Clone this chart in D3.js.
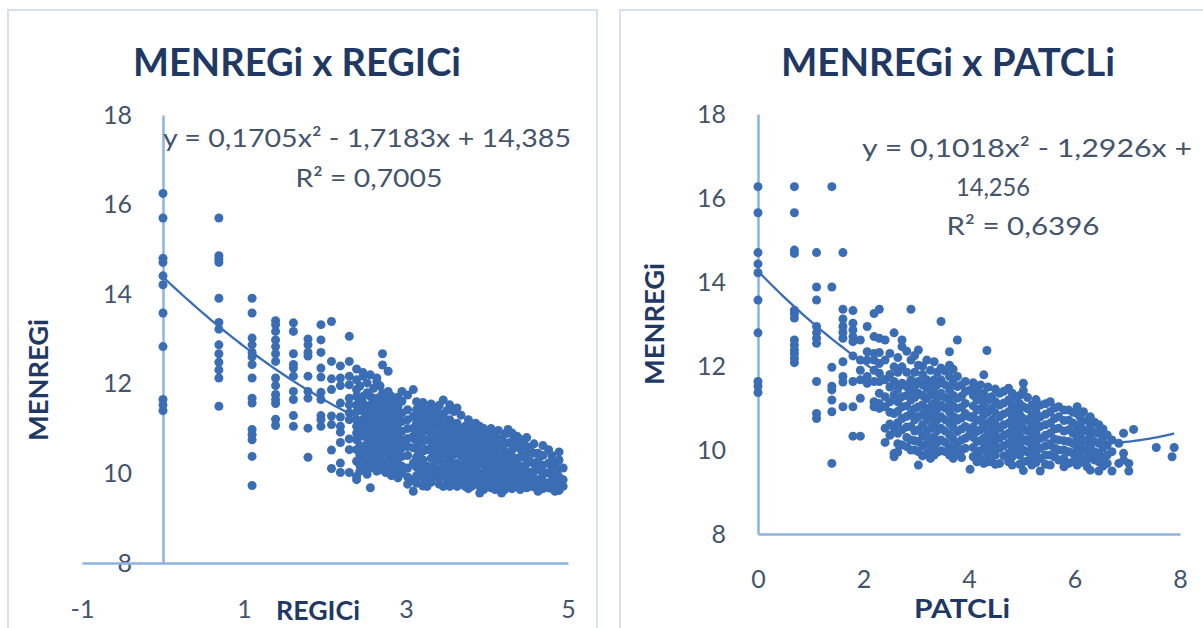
<!DOCTYPE html>
<html>
<head>
<meta charset="utf-8">
<script src="https://cdn.jsdelivr.net/npm/d3@7"></script>
<style>
  html, body { margin: 0; padding: 0; background: #ffffff; }
  svg { display: block; }
</style>
</head>
<body>
<svg id="chart" width="1203" height="628"></svg>
<script>
// ---- data -------------------------------------------------------------
// Each entry: [REGICi, MENREGi values observed at that REGICi]
const regiciColumns = [
  [0.00, [16.25, 15.70, 14.80, 14.71, 14.41, 14.21, 13.58, 12.83, 11.65, 11.53, 11.40]],
  [0.69, [15.70, 14.86, 14.78, 14.71, 13.91, 13.37, 13.22, 12.87, 12.67, 12.48, 12.31, 12.13, 11.50]],
  [1.10, [13.91, 13.58, 13.02, 12.87, 12.70, 12.60, 12.43, 12.13, 11.68, 11.57, 10.98, 10.87, 10.75, 10.38, 9.73]],
  [1.39, [13.41, 13.32, 13.17, 12.98, 12.83, 12.67, 12.50, 12.13, 11.96, 11.76, 11.65, 11.56, 11.21, 11.07]],
  [1.61, [13.36, 13.17, 12.67, 12.43, 12.35, 12.17, 11.83, 11.65, 11.29, 11.05]],
  [1.79, [13.00, 12.87, 12.70, 12.62, 12.17, 11.83, 11.68, 11.01, 10.36]],
  [1.95, [13.32, 12.98, 12.70, 12.35, 12.15, 11.81, 11.65, 11.29, 11.20, 11.05]],
  [2.08, [13.39, 12.50, 12.11, 11.87, 11.28, 11.09, 10.52, 10.11]],
  [2.19, [12.40, 12.13, 11.96, 11.57, 11.26, 11.05, 10.92, 10.69, 10.23, 10.02]],
  [2.30, [13.06, 12.50, 12.17, 11.98, 11.68, 11.53, 11.35, 11.20, 10.77, 10.53, 10.02]],
  [2.39, [12.33, 12.09, 11.87, 11.72, 11.53, 11.38, 11.20, 11.05, 10.90, 10.75, 10.53, 10.27, 9.93, 9.86]],
  [2.43, [11.95, 11.62, 11.44, 11.10, 10.84, 10.62, 10.40, 10.18, 10.05]],
  [2.47, [12.25, 12.17, 11.72, 11.57, 11.38, 11.20, 11.01, 10.83, 10.53, 10.27, 10.12]],
  [2.52, [12.02, 11.80, 11.46, 11.28, 11.07, 10.86, 10.66, 10.44, 10.20, 9.98]],
  [2.56, [12.20, 11.72, 11.53, 11.35, 11.16, 10.94, 10.75, 10.53, 10.31, 10.12, 9.68]],
  [2.60, [11.90, 11.62, 11.40, 11.22, 11.02, 10.80, 10.60, 10.40, 10.18]],
  [2.64, [12.13, 12.05, 11.68, 11.50, 11.31, 11.12, 10.90, 10.68, 10.53, 10.27, 10.05]],
  [2.68, [11.95, 11.70, 11.50, 11.36, 11.16, 10.96, 10.74, 10.48, 10.34, 10.08]],
  [2.71, [12.67, 12.42, 11.79, 11.61, 11.42, 11.27, 11.05, 10.83, 10.60, 10.27, 10.16]],
  [2.75, [11.70, 11.46, 11.30, 11.10, 10.92, 10.70, 10.47, 10.22, 10.02]],
  [2.78, [12.28, 11.83, 11.57, 11.35, 11.20, 11.01, 10.83, 10.53, 10.31, 10.12]],
  [2.82, [11.72, 11.52, 11.36, 11.15, 10.95, 10.68, 10.42, 10.18, 9.95]],
  [2.86, [11.61, 11.46, 11.27, 11.05, 10.79, 10.57, 10.27, 10.05]],
  [2.90, [11.70, 11.50, 11.30, 11.10, 10.88, 10.66, 10.45, 10.22, 10.08, 9.90]],
  [2.95, [11.83, 11.61, 11.35, 11.16, 10.94, 10.75, 10.57, 10.38, 10.16, 10.01]],
  [3.02, [11.75, 11.42, 11.20, 11.00, 10.78, 10.60, 10.40, 10.12, 9.92, 9.76]],
  [3.09, [11.87, 11.27, 11.01, 10.83, 10.57, 10.23, 9.86, 9.60]],
  [3.13, [11.60, 11.42, 11.12, 10.96, 10.76, 10.55, 10.36, 10.14, 9.95, 9.78]],
  [3.17, [11.50, 11.35, 11.20, 11.05, 10.86, 10.68, 10.45, 10.23, 10.05]],
  [3.21, [11.58, 11.30, 11.10, 10.92, 10.72, 10.50, 10.30, 10.12, 9.90, 9.72]],
  [3.26, [11.42, 11.24, 10.98, 10.75, 10.53, 10.16, 10.01, 9.86, 9.71]],
  [3.31, [11.55, 11.33, 11.12, 10.90, 10.70, 10.52, 10.34, 10.14, 9.96, 9.80]],
  [3.36, [11.46, 11.20, 11.05, 10.83, 10.64, 10.45, 10.27, 10.08, 9.93]],
  [3.41, [11.52, 11.34, 11.12, 10.92, 10.72, 10.52, 10.30, 10.10, 9.90, 9.76]],
  [3.46, [11.64, 11.27, 11.01, 10.79, 10.60, 10.42, 10.16, 10.01, 9.71]],
  [3.50, [11.40, 11.10, 10.88, 10.66, 10.45, 10.24, 10.06, 9.90, 9.76]],
  [3.54, [11.53, 11.20, 10.94, 10.72, 10.53, 10.31, 10.12, 9.86, 9.71]],
  [3.59, [11.38, 11.05, 10.84, 10.62, 10.42, 10.20, 10.00, 9.80]],
  [3.63, [11.46, 11.12, 10.90, 10.68, 10.49, 10.23, 10.05, 9.86, 9.71]],
  [3.68, [11.30, 11.00, 10.82, 10.62, 10.40, 10.20, 10.02, 9.80]],
  [3.73, [11.05, 10.90, 10.75, 10.53, 10.34, 10.16, 9.93, 9.71]],
  [3.77, [11.20, 10.98, 10.80, 10.60, 10.38, 10.20, 10.00, 9.80, 9.66]],
  [3.81, [11.09, 10.86, 10.68, 10.45, 10.27, 10.05, 9.86, 9.71]],
  [3.86, [11.12, 10.95, 10.75, 10.55, 10.35, 10.15, 9.95, 9.78]],
  [3.91, [11.05, 10.86, 10.64, 10.45, 10.23, 10.01, 9.86, 9.71, 9.56]],
  [3.96, [11.00, 10.78, 10.58, 10.38, 10.18, 9.98, 9.80, 9.64]],
  [4.00, [10.90, 10.68, 10.49, 10.27, 10.08, 9.86, 9.71]],
  [4.05, [11.00, 10.78, 10.58, 10.38, 10.18, 10.00, 9.80, 9.68]],
  [4.10, [10.86, 10.64, 10.45, 10.27, 10.12, 9.93, 9.79, 9.64]],
  [4.14, [10.96, 10.76, 10.55, 10.36, 10.20, 10.02, 9.85, 9.68]],
  [4.18, [10.75, 10.57, 10.34, 10.16, 9.97, 9.79, 9.71, 9.56]],
  [4.22, [10.88, 10.66, 10.48, 10.30, 10.12, 9.95, 9.80, 9.64]],
  [4.26, [10.98, 10.90, 10.68, 10.45, 10.27, 10.08, 9.86, 9.71]],
  [4.31, [10.90, 10.72, 10.52, 10.35, 10.15, 9.96, 9.80, 9.66]],
  [4.37, [10.83, 10.60, 10.34, 10.20, 10.01, 9.86, 9.71]],
  [4.41, [10.76, 10.55, 10.36, 10.15, 9.98, 9.80, 9.64]],
  [4.45, [10.68, 10.38, 10.16, 9.93, 9.71]],
  [4.49, [10.80, 10.60, 10.42, 10.22, 10.04, 9.86, 9.68]],
  [4.53, [10.53, 10.27, 10.01, 9.79, 9.71]],
  [4.58, [10.66, 10.45, 10.22, 10.05, 9.88, 9.70]],
  [4.63, [10.45, 10.27, 10.08, 9.86, 9.71, 9.60]],
  [4.69, [10.62, 10.40, 10.18, 9.98, 9.82, 9.66]],
  [4.76, [10.53, 10.23, 10.01, 9.79, 9.68]],
  [4.80, [10.40, 10.14, 9.96, 9.80, 9.66]],
  [4.84, [10.23, 10.01, 9.86, 9.75, 9.60]],
  [4.89, [10.48, 10.30, 10.10, 9.92, 9.76, 9.62]],
  [4.94, [10.12, 9.86, 9.71]]
];

// Each entry: [PATCLi, MENREGi values observed at that PATCLi]
const patcliColumns = [
  [0.00, [16.27, 15.65, 14.70, 14.43, 14.22, 13.57, 12.79, 11.63, 11.52, 11.37]],
  [0.69, [16.27, 15.65, 14.76, 14.68, 13.33, 13.25, 13.14, 12.62, 12.50, 12.38, 12.29, 12.18, 12.08]],
  [1.11, [14.70, 13.88, 13.57, 12.94, 12.79, 12.66, 12.54, 11.63, 10.87, 10.75]],
  [1.40, [16.27, 13.88, 11.97, 11.52, 11.43, 11.19, 10.91, 9.68]],
  [1.61, [14.70, 13.35, 13.12, 12.94, 12.80, 12.66, 12.10, 11.75, 11.62, 11.03]],
  [1.80, [13.32, 13.02, 12.86, 12.70, 12.58, 12.24, 11.63, 11.03, 10.33]],
  [1.94, [12.62, 12.14, 11.90, 11.67, 11.23, 10.33]],
  [2.07, [12.94, 12.34, 12.14, 11.75, 11.59]],
  [2.20, [13.25, 12.70, 12.30, 12.14, 11.90, 11.63, 11.15, 11.03]],
  [2.30, [13.35, 12.66, 12.32, 12.06, 11.83, 11.63, 11.35, 11.11, 10.99]],
  [2.41, [12.62, 12.14, 11.67, 11.27, 11.03, 10.52, 10.18]],
  [2.50, [12.30, 11.80, 11.50, 11.15, 10.90, 10.62, 10.35]],
  [2.58, [12.79, 11.98, 11.63, 11.31, 10.87, 10.52, 9.92, 9.84]],
  [2.65, [12.20, 11.85, 11.45, 11.15, 10.92, 10.65, 10.40, 10.15, 9.95]],
  [2.73, [12.62, 12.46, 11.98, 11.59, 11.27, 11.03, 10.75, 10.48, 10.12]],
  [2.82, [12.35, 11.85, 11.55, 11.30, 11.05, 10.80, 10.55, 10.30, 10.08]],
  [2.90, [13.35, 12.14, 11.67, 11.43, 11.19, 10.87, 10.56, 10.24, 10.00]],
  [2.97, [12.25, 11.85, 11.52, 11.25, 10.98, 10.72, 10.45, 10.22, 10.00]],
  [3.04, [12.38, 12.02, 11.63, 11.35, 11.03, 10.79, 10.48, 10.20, 9.96, 9.64]],
  [3.12, [12.00, 11.80, 11.55, 11.30, 11.08, 10.85, 10.60, 10.34, 10.10, 9.86]],
  [3.20, [12.14, 11.67, 11.47, 11.23, 10.95, 10.71, 10.44, 10.16, 9.92]],
  [3.27, [11.90, 11.55, 11.30, 11.02, 10.78, 10.52, 10.26, 10.00, 9.80]],
  [3.34, [12.10, 11.67, 11.39, 11.11, 10.87, 10.60, 10.32, 10.08, 9.88]],
  [3.40, [11.85, 11.55, 11.25, 10.98, 10.72, 10.46, 10.18, 9.95]],
  [3.47, [13.06, 11.95, 11.67, 11.35, 11.07, 10.79, 10.52, 10.24, 9.98]],
  [3.55, [11.88, 11.55, 11.25, 11.00, 10.72, 10.45, 10.18, 9.96]],
  [3.63, [12.34, 12.02, 11.75, 11.43, 11.15, 10.91, 10.64, 10.36, 10.08, 9.88]],
  [3.70, [11.92, 11.60, 11.30, 11.05, 10.80, 10.54, 10.26, 10.02, 9.80]],
  [3.78, [12.62, 11.75, 11.51, 11.23, 10.99, 10.71, 10.44, 10.16, 9.92]],
  [3.86, [11.55, 11.28, 11.02, 10.76, 10.50, 10.24, 10.00, 9.82]],
  [3.93, [11.63, 11.39, 11.11, 10.87, 10.56, 10.28, 10.04]],
  [4.02, [11.43, 10.79, 10.40, 9.54]],
  [4.08, [11.60, 11.30, 11.05, 10.80, 10.55, 10.30, 10.06, 9.84]],
  [4.15, [11.43, 11.19, 10.95, 10.71, 10.44, 10.20, 9.96, 9.72]],
  [4.22, [11.55, 11.25, 10.98, 10.72, 10.48, 10.22, 9.98, 9.80]],
  [4.28, [11.79, 11.35, 11.07, 10.83, 10.56, 10.28, 10.04, 9.68]],
  [4.34, [12.37]],
  [4.36, [11.50, 11.18, 10.90, 10.64, 10.38, 10.12, 9.90, 9.72]],
  [4.43, [11.27, 10.99, 10.71, 10.48, 10.24, 9.96, 9.72]],
  [4.50, [11.45, 11.15, 10.88, 10.62, 10.36, 10.12, 9.88, 9.66]],
  [4.58, [11.35, 11.07, 10.79, 10.52, 10.28, 10.04, 9.68]],
  [4.66, [11.40, 11.12, 10.86, 10.60, 10.34, 10.10, 9.86]],
  [4.75, [11.47, 11.19, 10.91, 10.64, 10.40, 10.16, 9.92, 9.72]],
  [4.82, [11.35, 11.05, 10.80, 10.55, 10.30, 10.06, 9.84, 9.64]],
  [4.90, [11.23, 10.95, 10.71, 10.44, 10.20, 9.96]],
  [4.96, [11.30, 11.10, 10.85, 10.60, 10.35, 10.12, 9.88, 9.66]],
  [5.03, [11.59, 11.41, 11.03, 10.75, 10.52, 10.24, 10.00, 9.72, 9.51]],
  [5.11, [11.25, 10.98, 10.70, 10.45, 10.20, 9.95, 9.74]],
  [5.19, [11.07, 10.83, 10.56, 10.32, 10.08, 9.84, 9.64]],
  [5.27, [11.20, 10.92, 10.68, 10.42, 10.18, 9.94, 9.70]],
  [5.35, [11.07, 10.79, 10.56, 10.28, 10.04, 9.80, 9.50]],
  [5.45, [11.10, 10.85, 10.60, 10.35, 10.10, 9.88, 9.66]],
  [5.54, [11.15, 10.91, 10.64, 10.40, 10.12, 9.88, 9.64]],
  [5.62, [11.00, 10.75, 10.50, 10.26, 10.05, 9.84]],
  [5.70, [11.03, 10.79, 10.52, 10.24, 10.00, 9.76]],
  [5.80, [10.95, 10.70, 10.45, 10.22, 10.00, 9.80, 9.60]],
  [5.89, [10.95, 10.71, 10.48, 10.20, 9.96, 9.68]],
  [5.97, [10.90, 10.64, 10.40, 10.16, 9.92, 9.72]],
  [6.05, [11.03, 10.87, 10.52, 10.28, 10.04, 9.80, 9.64]],
  [6.11, [10.78, 10.60, 10.36, 10.12, 9.90, 9.70]],
  [6.17, [10.91, 10.48, 10.24, 10.00, 9.76]],
  [6.24, [10.70, 10.45, 10.20, 9.98, 9.78, 9.60]],
  [6.30, [10.79, 10.56, 10.32, 10.08, 9.84, 9.52]],
  [6.38, [10.66, 10.42, 10.20, 9.96, 9.76]],
  [6.46, [10.60, 10.40, 10.16, 9.92, 9.72, 9.50]],
  [6.54, [10.50, 10.28, 10.05, 9.82, 9.62]],
  [6.62, [10.36, 10.12, 9.88, 9.68]],
  [6.71, [10.24, 9.96, 9.50]],
  [6.84, [10.16, 9.68]],
  [6.93, [10.40, 9.92, 9.76]],
  [7.03, [9.68, 9.50]],
  [7.12, [10.49]],
  [7.55, [10.06]],
  [7.85, [9.84]],
  [7.89, [10.06]]
];

// Polynomial trendline coefficients: [constant, x, x²]
const regiciTrend = [14.385, -1.7183, 0.1705];
const patcliTrend = [14.256, -1.2926, 0.1018];
const regiciTrendSpan = [0, 4.94];
const patcliTrendSpan = [0, 7.89];

// Axes
const menregiTicks = [8, 10, 12, 14, 16, 18];
const regiciTicks = [-1, 1, 3, 5];
const patcliTicks = [0, 2, 4, 6, 8];

// Text
const regiciTitle = "MENREGi x REGICi";
const patcliTitle = "MENREGi x PATCLi";
const regiciEquation = ["y = 0,1705x² - 1,7183x + 14,385", "R² = 0,7005"];
const patcliEquation = ["y = 0,1018x² - 1,2926x +", "14,256", "R² = 0,6396"];

// ---- styling ----------------------------------------------------------
const FONT = "Lato, 'Open Sans', 'DejaVu Sans', sans-serif";
const DOT = "#3A6DB4";
const AXIS = "#8DB3E2";
const TICK_TEXT = "#44546A";
const TITLE_TEXT = "#1F3864";
const FRAME = "#D6E1EF";

const svg = d3.select("#chart");

function flatten(columns) {
  const pts = [];
  columns.forEach(([xv, ys]) => ys.forEach(yv => pts.push({ x: xv, y: yv })));
  return pts;
}

function addText(g, str, x, y, opts) {
  const t = g.append("text")
    .attr("x", x).attr("y", y)
    .attr("text-anchor", opts.anchor || "middle")
    .attr("font-family", FONT)
    .attr("font-size", opts.size)
    .attr("font-weight", opts.bold ? 700 : 400)
    .attr("fill", opts.color)
    .text(str);
  if (opts.width) t.attr("textLength", opts.width).attr("lengthAdjust", "spacingAndGlyphs");
  if (opts.rotate) t.attr("transform", `rotate(${opts.rotate},${x},${y})`);
  return t;
}

// plain hyphen-minus for negative tick labels
const tickFormat = d => String(d);

function drawPanel(p) {
  const g = svg.append("g");

  // chart frame
  g.append("rect")
    .attr("x", p.frame[0]).attr("y", p.frame[1])
    .attr("width", p.frame[2]).attr("height", p.frame[3])
    .attr("fill", "#ffffff").attr("stroke", FRAME).attr("stroke-width", 2);

  const x = d3.scaleLinear().domain(p.xDomain).range(p.xRange);
  const y = d3.scaleLinear().domain([8, 18]).range(p.yRange);

  // vertical axis crossing at x = 0
  const yAxis = g.append("g")
    .attr("transform", `translate(${x(0)},0)`)
    .call(d3.axisLeft(y).tickValues(menregiTicks).tickSize(0).tickPadding(p.yPad).tickFormat(tickFormat));
  // horizontal axis at MENREGi = 8
  const xAxis = g.append("g")
    .attr("transform", `translate(0,${y(8)})`)
    .call(d3.axisBottom(x).tickValues(p.xTicks).tickSize(0).tickPadding(p.xPad).tickFormat(tickFormat));

  [yAxis, xAxis].forEach(a => {
    a.attr("font-family", null).attr("font-size", null);
    a.select(".domain").attr("stroke", AXIS).attr("stroke-width", 2.5);
    a.selectAll("text")
      .attr("font-family", FONT).attr("font-size", p.tickSize)
      .attr("fill", TICK_TEXT);
  });

  // points
  g.append("g").selectAll("circle")
    .data(flatten(p.columns))
    .join("circle")
    .attr("cx", d => x(d.x))
    .attr("cy", d => y(d.y))
    .attr("r", 4.5)
    .attr("fill", DOT);

  // polynomial trendline from the stated coefficients
  const [c0, c1, c2] = p.trend;
  const trendPts = d3.range(0, 121).map(i => {
    const xv = p.trendSpan[0] + (p.trendSpan[1] - p.trendSpan[0]) * i / 120;
    return [xv, c0 + c1 * xv + c2 * xv * xv];
  });
  g.append("path")
    .datum(trendPts)
    .attr("fill", "none")
    .attr("stroke", DOT)
    .attr("stroke-width", 2.3)
    .attr("d", d3.line().x(d => x(d[0])).y(d => y(d[1])));

  // titles
  addText(g, p.title, p.titlePos[0], p.titlePos[1], { size: 39, bold: true, color: TITLE_TEXT, width: p.titleWidth });
  addText(g, p.xTitle, p.xTitlePos[0], p.xTitlePos[1], { size: 27, bold: true, color: TITLE_TEXT, width: p.xTitleWidth });
  addText(g, "MENREGi", p.yTitlePos[0], p.yTitlePos[1], { size: 27, bold: true, color: TITLE_TEXT, rotate: -90, width: 122 });

  // trendline equation
  p.equation.forEach((line, i) => {
    const e = p.eqLines[i];
    addText(g, line, e[0], e[1], { size: 25, color: TICK_TEXT, width: e[2] });
  });
}

drawPanel({
  frame: [8, 10, 589, 640],
  columns: regiciColumns,
  xDomain: [-1, 5], xRange: [82, 568],
  yRange: [563, 115],
  xTicks: regiciTicks,
  yPad: 31, xPad: 37, tickSize: 25,
  trend: regiciTrend, trendSpan: regiciTrendSpan,
  title: regiciTitle, titlePos: [297, 76], titleWidth: 328,
  xTitle: "REGICi", xTitlePos: [318, 620], xTitleWidth: 84,
  yTitlePos: [48, 380],
  equation: regiciEquation,
  eqLines: [[367, 147, 408], [369, 187, 147]]
});

drawPanel({
  frame: [620, 10, 600, 640],
  columns: patcliColumns,
  xDomain: [0, 8], xRange: [758, 1180],
  yRange: [534, 114],
  xTicks: patcliTicks,
  yPad: 32, xPad: 36, tickSize: 25,
  trend: patcliTrend, trendSpan: patcliTrendSpan,
  title: patcliTitle, titlePos: [948, 76], titleWidth: 334,
  xTitle: "PATCLi", xTitlePos: [962, 618], xTitleWidth: 96,
  yTitlePos: [664, 324],
  equation: patcliEquation,
  eqLines: [[1027, 157, 330], [993, 196, 74], [1023, 235, 153]]
});
</script>
</body>
</html>
